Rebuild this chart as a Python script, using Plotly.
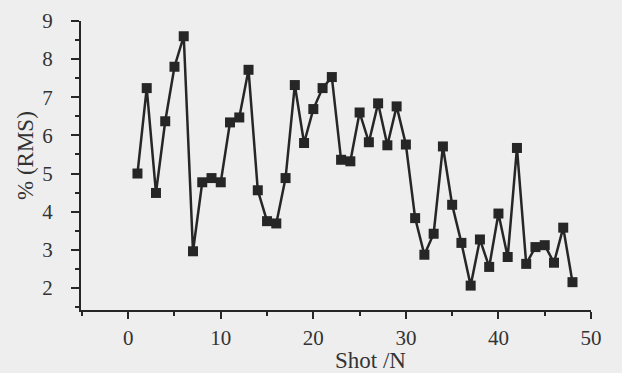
import plotly.graph_objects as go

shots = list(range(1, 49))
rms = [5.0, 7.24, 4.49, 6.37, 7.8, 8.6, 2.96, 4.77, 4.88, 4.77,
       6.34, 6.47, 7.72, 4.56, 3.75, 3.69, 4.88, 7.32, 5.8, 6.69,
       7.24, 7.53, 5.36, 5.32, 6.6, 5.82, 6.84, 5.74, 6.76, 5.76,
       3.83, 2.87, 3.42, 5.71, 4.18, 3.18, 2.06, 3.27, 2.55, 3.95,
       2.81, 5.67, 2.63, 3.07, 3.12, 2.66, 3.58, 2.15]
x_ticks = [0, 10, 20, 30, 40, 50]
y_ticks = [2, 3, 4, 5, 6, 7, 8, 9]
x_title = "Shot /N"
y_title = "% (RMS)"

ink = "#262626"
font = dict(family="Liberation Serif", size=21, color="#333333")
title_font = dict(family="Liberation Serif", size=23, color="#333333")

fig = go.Figure()
fig.add_trace(go.Scatter(
    x=shots, y=rms, mode="lines+markers",
    line=dict(color=ink, width=2.5),
    marker=dict(symbol="square", size=10, color=ink),
    showlegend=False,
))

fig.update_layout(
    width=622, height=373,
    margin=dict(l=81, r=31, t=21, b=63),
    paper_bgcolor="#eeeeee", plot_bgcolor="#eeeeee",
    font=font,
)
fig.add_annotation(text=x_title, xref="paper", yref="paper", x=0.568, y=-0.175,
                   xanchor="center", yanchor="middle", showarrow=False, font=title_font)
fig.add_annotation(text=y_title, xref="paper", yref="paper", x=-0.11, y=0.536,
                   xanchor="center", yanchor="middle", textangle=-90, showarrow=False, font=title_font)
fig.update_xaxes(
    range=[-5.1, 50], tickvals=x_ticks, ticks="outside", ticklen=7, tickwidth=2,
    tickcolor=ink, showline=True, linecolor=ink, linewidth=2, showgrid=False,
    zeroline=False, minor=dict(dtick=5, tick0=0, ticks="outside", ticklen=4, tickwidth=2, tickcolor=ink),
    tickfont=font, ticklabelstandoff=1, automargin=False,
)
fig.update_yaxes(
    range=[1.42, 9], tickvals=y_ticks, ticks="outside", ticklen=8, tickwidth=2,
    tickcolor=ink, showline=True, linecolor=ink, linewidth=2, showgrid=False,
    zeroline=False, minor=dict(dtick=0.5, tick0=0, ticks="outside", ticklen=4, tickwidth=2, tickcolor=ink),
    tickfont=font, ticklabelstandoff=14, automargin=False,
)
fig.write_html("out.html")
